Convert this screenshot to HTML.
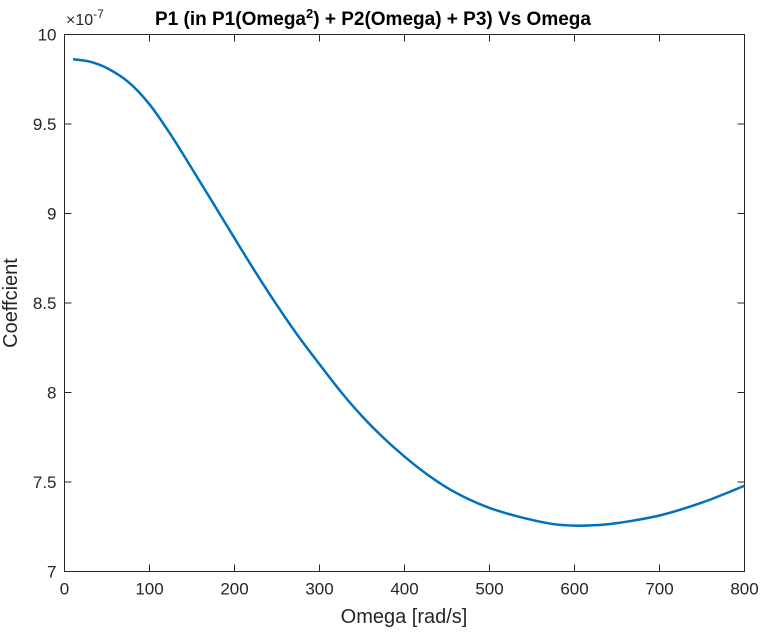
<!DOCTYPE html>
<html><head><meta charset="utf-8"><style>body{margin:0;background:#fff}svg{font-family:"Liberation Sans",Arial,sans-serif}</style></head>
<body>
<svg id="chart" width="762" height="630" xmlns="http://www.w3.org/2000/svg">
<rect width="762" height="630" fill="#fff"/>
<g id="ticks"></g>
<rect x="64.5" y="34.5" width="680" height="537" fill="none" stroke="#262626" stroke-width="1"/>
<path id="curve" fill="none" stroke="#0072BD" stroke-width="2.5"/>
<text x="155" y="25" font-weight="bold" font-size="19" fill="#000">P1 (in P1(Omega<tspan font-size="13" dy="-7">2</tspan><tspan dy="7">) + P2(Omega) + P3) Vs Omega</tspan></text>
<text x="66" y="25" font-size="16" fill="#262626">×10<tspan font-size="12" dy="-7">-7</tspan></text>
<text x="404" y="623" text-anchor="middle" font-size="20" fill="#262626">Omega [rad/s]</text>
<text transform="translate(17,303) rotate(-90)" text-anchor="middle" font-size="20" fill="#262626">Coeffcient</text>
</svg>
<script>
const xData=[10,30,50,75,100,125,150,175,200,225,250,275,300,325,350,375,400,425,450,475,500,525,550,575,600,625,650,700,750,800];
const yData=[9.862,9.848,9.812,9.735,9.61,9.44,9.25,9.057,8.862,8.67,8.487,8.315,8.158,8.005,7.868,7.748,7.642,7.548,7.468,7.405,7.355,7.318,7.288,7.265,7.256,7.259,7.270,7.313,7.385,7.479];
const xTicks=[0,100,200,300,400,500,600,700,800];
const yTicks=[7,7.5,8,8.5,9,9.5,10];
const yTickLabels=["7","7.5","8","8.5","9","9.5","10"];
const L=64.5,R=744.5,T=34.5,B=571.5;
const sx=v=>L+(v-0)/(800-0)*(R-L);
const sy=v=>B-(v-7)/(10-7)*(B-T);
const NS="http://www.w3.org/2000/svg";
const g=document.getElementById('ticks');
function mk(tag,a){const e=document.createElementNS(NS,tag);for(const k in a)e.setAttribute(k,a[k]);g.appendChild(e);return e;}
xTicks.forEach(v=>{const x=sx(v);
 const t1=mk('line',{x1:x,x2:x,y1:B,y2:B-7,stroke:'#262626'});
 
 
 const t2=mk('line',{x1:x,x2:x,y1:T,y2:T+7,stroke:'#262626'});
 
 
 const tx=mk('text',{x:x,y:B+23,'text-anchor':'middle','font-size':17,fill:'#262626'});tx.textContent=v;
 
 
});
yTicks.forEach((v,i)=>{const y=sy(v);
 const t1=mk('line',{x1:L,x2:L+7,y1:y,y2:y,stroke:'#262626'});
 
 
 const t2=mk('line',{x1:R,x2:R-7,y1:y,y2:y,stroke:'#262626'});
 
 
 const tx=mk('text',{x:L-8,y:y+6,'text-anchor':'end','font-size':17,fill:'#262626'});tx.textContent=yTickLabels[i];
 
 
});
const pts=xData.map((x,i)=>[sx(x),sy(yData[i])]);
let d='M'+pts[0][0]+','+pts[0][1];
for(let i=0;i<pts.length-1;i++){const p0=pts[Math.max(0,i-1)],p1=pts[i],p2=pts[i+1],p3=pts[Math.min(pts.length-1,i+2)];
 d+=' C'+(p1[0]+(p2[0]-p0[0])/6)+','+(p1[1]+(p2[1]-p0[1])/6)+' '+(p2[0]-(p3[0]-p1[0])/6)+','+(p2[1]-(p3[1]-p1[1])/6)+' '+p2[0]+','+p2[1];}
document.getElementById('curve').setAttribute('d',d);
</script>
</body></html>
